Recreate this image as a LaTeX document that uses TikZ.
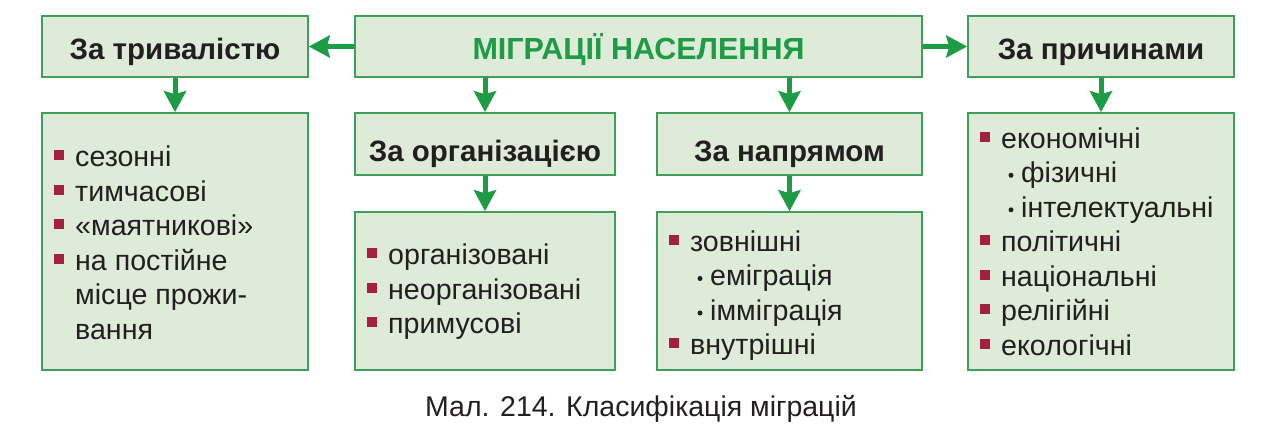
\documentclass[tikz,border=0pt]{standalone}
\usepackage{fontspec}
\setmainfont{Liberation Sans}
\usetikzlibrary{arrows.meta}
\definecolor{boxfill}{HTML}{DDEBD8}
\definecolor{boxline}{HTML}{3F9F5A}
\definecolor{arr}{HTML}{1E9B45}
\definecolor{ttl}{HTML}{1E9B45}
\definecolor{bul}{HTML}{A3213F}
\definecolor{ink}{HTML}{231F20}
\newcommand\bitem[4]{%
  \node[sq] (#1s) at ({#2+12},{#3-6.5}) {};
  \node[item] (#1) at ({#2+33},#3) {#4};}
\newcommand\sitem[4]{%
  \node[dotb] (#1d) at ({#2+43},{#3-7.5}) {};
  \node[item] (#1) at ({#2+53},#3) {#4};}
\begin{document}
\begin{tikzpicture}[x=1pt,y=-1pt,
  box/.style={draw=boxline, line width=1.6pt, fill=boxfill, inner sep=0pt, rectangle},
  head/.style={anchor=base, inner sep=0pt, font=\fontsize{29.5}{34}\selectfont\bfseries, text=ink},
  item/.style={anchor=base west, inner sep=0pt, font=\fontsize{28.6}{34}\selectfont, text=ink},
  sq/.style={fill=bul, inner sep=0pt, minimum size=10pt, anchor=south west},
  dotb/.style={fill=ink, circle, inner sep=0pt, minimum size=5pt},
  link/.style={draw=arr, line width=5pt, -{Stealth[length=21pt,width=22pt,inset=3pt]}},
]
\useasboundingbox (0,0) rectangle (1280,446);
% top row
\node[box, minimum width=266pt, minimum height=61pt] (dur) at (175,46.5) {};
\node[box, minimum width=567pt, minimum height=61pt] (main) at (638.5,46.5) {};
\node[box, minimum width=266pt, minimum height=61pt] (cause) at (1101,46.5) {};
\node[head] (durt) at (175,60) {За тривалістю};
\node[head, text=ttl, font=\fontsize{30.5}{34}\selectfont\bfseries] (maint) at (638.5,60) {МІГРАЦІЇ НАСЕЛЕННЯ};
\node[head] (causet) at (1101,60) {За причинами};
% second row
\node[box, minimum width=266pt, minimum height=257pt] (durl) at (175,241.5) {};
\node[box, minimum width=260pt, minimum height=62pt] (org) at (485,144) {};
\node[box, minimum width=265pt, minimum height=62pt] (dir) at (789.5,144) {};
\node[box, minimum width=266pt, minimum height=257pt] (causel) at (1101,241.5) {};
\node[head] (orgt) at (485,162) {За організацією};
\node[head] (dirt) at (789.5,162) {За напрямом};
% third row
\node[box, minimum width=260pt, minimum height=158pt] (orgl) at (485,291) {};
\node[box, minimum width=265pt, minimum height=158pt] (dirl) at (789.5,291) {};
% arrows
\draw[link] (main.west) -- (dur.east);
\draw[link] (main.east) -- (cause.west);
\draw[link] (dur.south) -- (durl.north);
\draw[link] (org.north |- main.south) -- (org.north);
\draw[link] (dir.north |- main.south) -- (dir.north);
\draw[link] (org.south) -- (orgl.north);
\draw[link] (dir.south) -- (dirl.north);
\draw[link] (cause.south) -- (causel.north);
% left list
\bitem{d1}{42}{167}{сезонні}
\bitem{d2}{42}{201.5}{тимчасові}
\bitem{d3}{42}{236}{«маятникові»}
\bitem{d4}{42}{270.5}{на постійне}
\node[item] (d5) at (75,305) {місце прожи-};
\node[item] (d6) at (75,339.5) {вання};
% organisation list
\bitem{o1}{355}{265}{організовані}
\bitem{o2}{355}{299.5}{неорганізовані}
\bitem{o3}{355}{334}{примусові}
% direction list
\bitem{n1}{657}{251.5}{зовнішні}
\sitem{n2}{657}{286}{еміграція}
\sitem{n3}{657}{320.5}{імміграція}
\bitem{n4}{657}{355}{внутрішні}
% cause list
\bitem{c1}{968}{148.3}{економічні}
\sitem{c2}{968}{182.8}{фізичні}
\sitem{c3}{968}{217.3}{інтелектуальні}
\bitem{c4}{968}{251.8}{політичні}
\bitem{c5}{968}{286.3}{національні}
\bitem{c6}{968}{320.8}{релігійні}
\bitem{c7}{968}{355.3}{екологічні}
% caption
\node[anchor=base, inner sep=0pt, font=\fontsize{28.5}{32}\selectfont, text=ink] (cap) at (641,416.7) {Мал. 214. Класифікація міграцій};
\end{tikzpicture}
\end{document}
